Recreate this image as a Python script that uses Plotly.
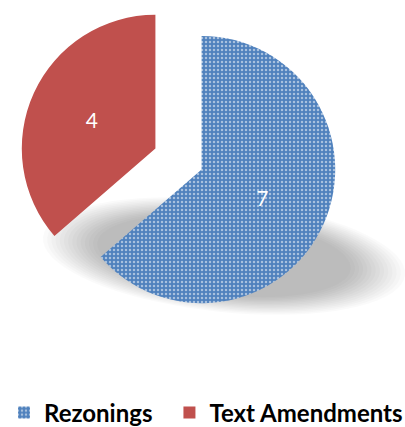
import math
import plotly.graph_objects as go

labels = ["Rezonings\u2002", "Text Amendments"]
values = [7, 4]
colors = ["#4F81BD", "#C0504D"]

W, H = 405, 427

fig = go.Figure()


def ellipse_path(cx, cy, rx, ry, theta, npts=72):
    pts = []
    ct, st = math.cos(theta), math.sin(theta)
    for k in range(npts):
        t = 2 * math.pi * k / npts
        x = cx + rx * math.cos(t) * ct - ry * math.sin(t) * st
        y = cy + rx * math.cos(t) * st + ry * math.sin(t) * ct
        pts.append((x / W, 1 - y / H))
    return "M " + " L ".join(f"{px:.5f},{py:.5f}" for px, py in pts) + " Z"


# soft perspective shadow beneath the pie (layered translucent ellipses)
scx, scy, SRX, SRY, tilt = 224, 256, 182, 56, math.radians(6)
n = 14
for i in range(n):
    f = 1.0 - 0.3 * i / (n - 1)
    fig.add_shape(type="path", xref="paper", yref="paper", layer="below",
                  path=ellipse_path(scx, scy, SRX * f, SRY * f, tilt),
                  fillcolor="rgba(0,0,0,0.018)", line=dict(width=0))

fig.add_trace(go.Pie(
    labels=labels,
    values=values,
    sort=False,
    direction="clockwise",
    rotation=0,
    pull=[0.19, 0.19],
    marker=dict(
        colors=colors,
        line=dict(width=0),
        pattern=dict(shape=[".", ""], fgcolor="white", bgcolor="#4F81BD",
                     size=4, solidity=0.3, fillmode="overlay"),
    ),
    textinfo="value",
    textposition="inside",
    insidetextorientation="horizontal",
    textfont=dict(color="white", size=21, family="Lato"),
    hoverinfo="label+value",
    domain=dict(x=[0, 357 / W], y=[1 - 318 / H, 1]),
))

fig.update_layout(
    width=W, height=H,
    margin=dict(l=0, r=0, t=0, b=0, autoexpand=False),
    paper_bgcolor="white",
    plot_bgcolor="white",
    showlegend=True,
    legend=dict(orientation="h", x=4 / W, xanchor="left",
                yref="container", y=(427 - 413) / H, yanchor="middle",
                font=dict(family="Lato", size=24, color="black", weight="bold"),
                itemwidth=30),
)

fig.write_html("out.html", config={"displayModeBar": False},
               post_script="document.body.style.margin='0px';")
